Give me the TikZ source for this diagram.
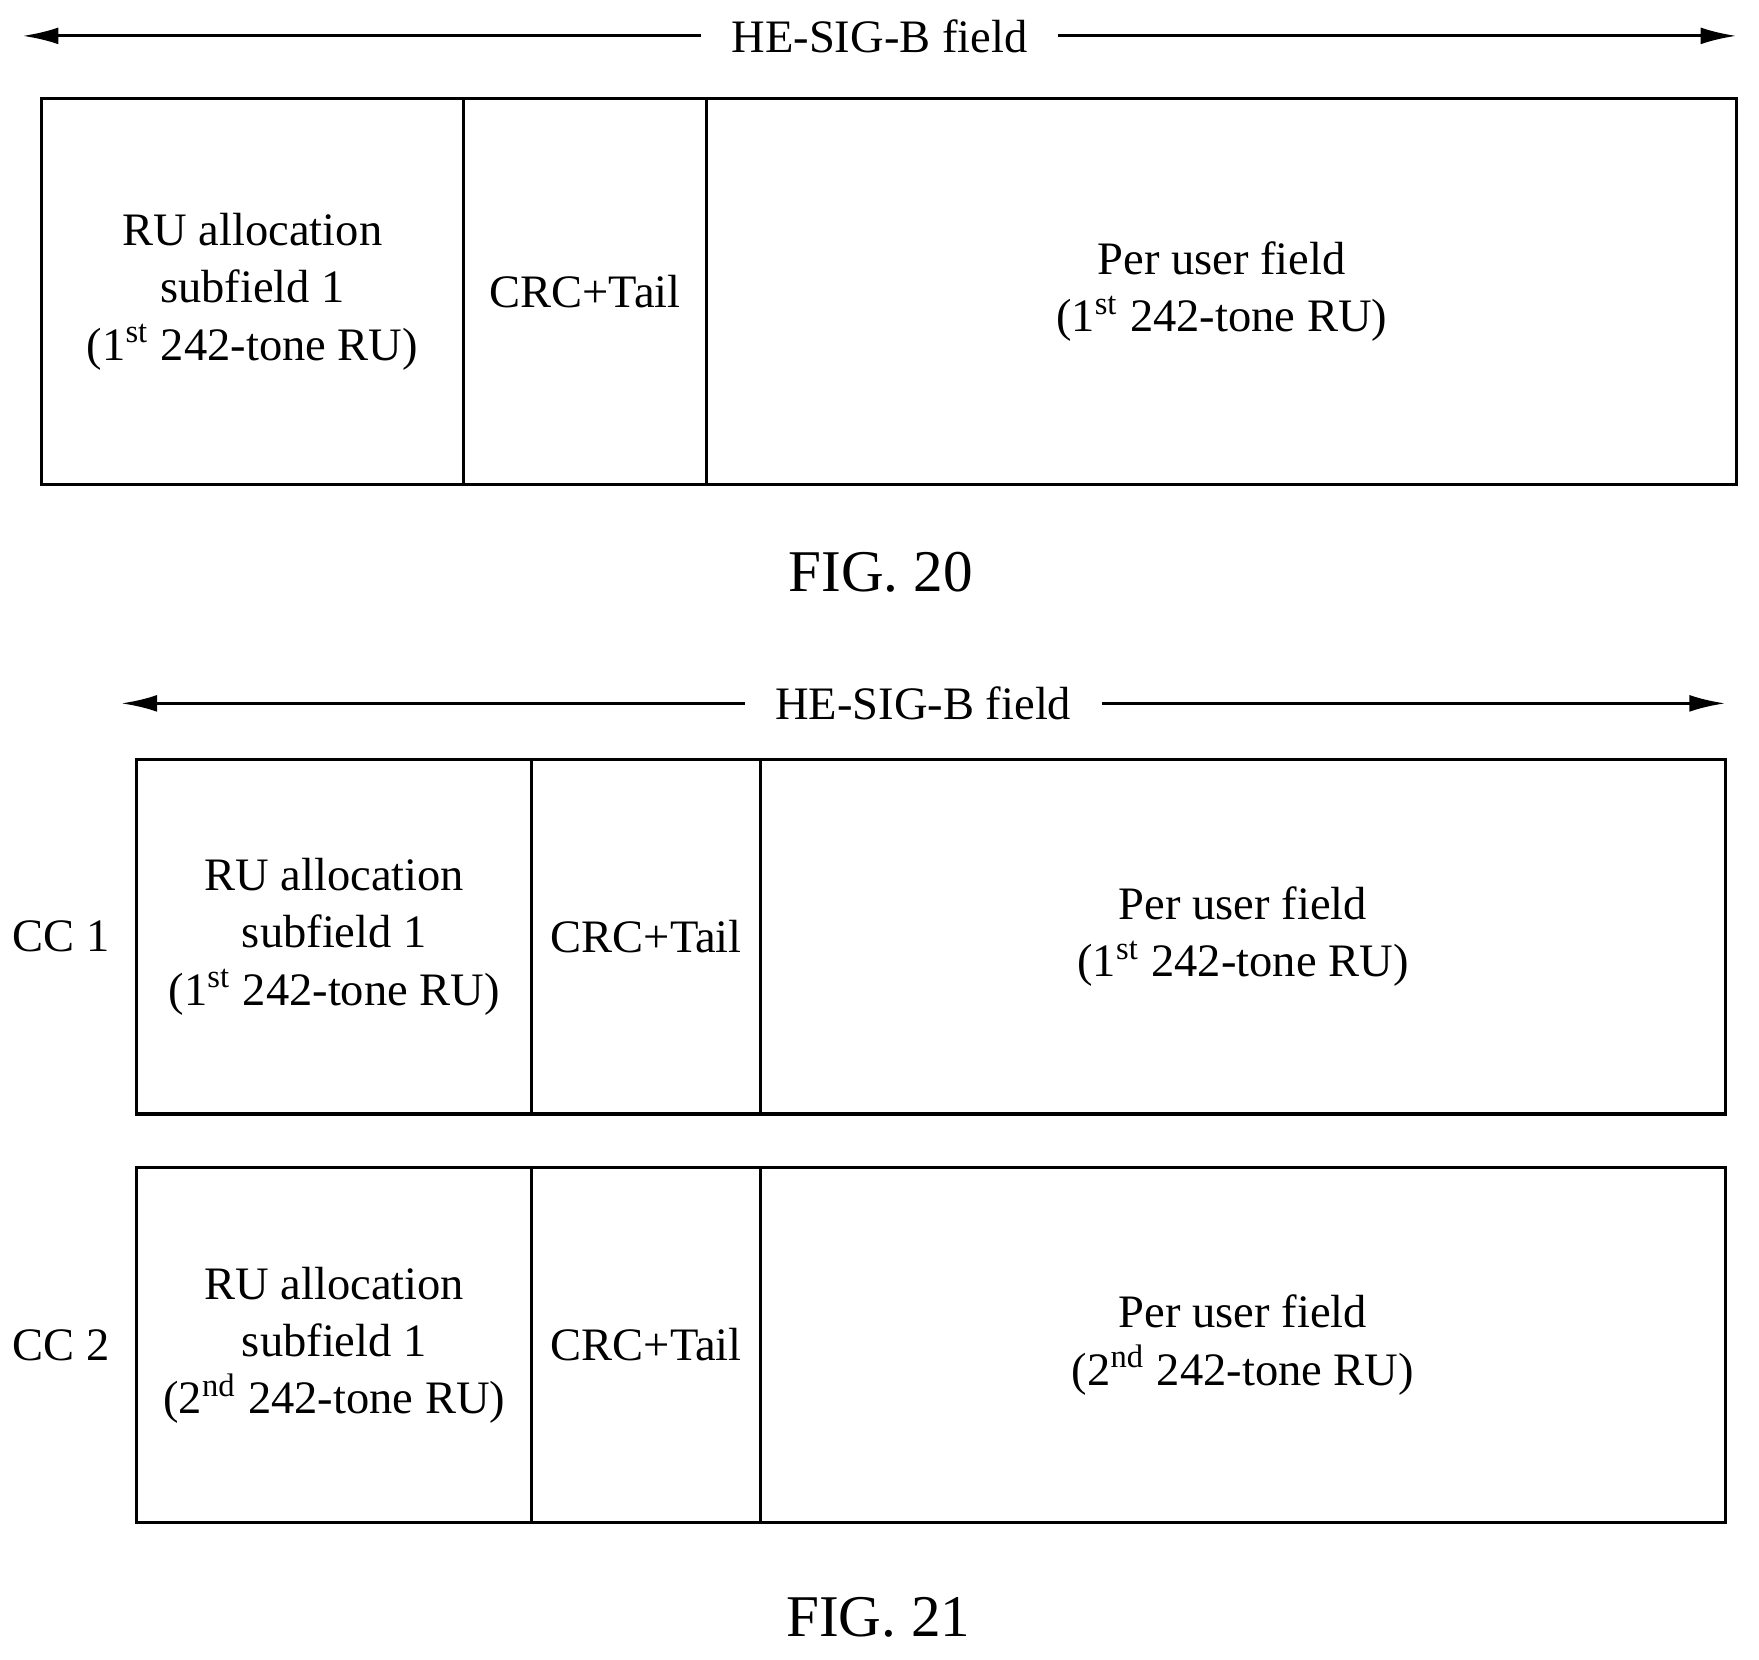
\documentclass[tikz,border=0pt]{standalone}
\usepackage{fontspec}
\setmainfont{Liberation Serif}
\usetikzlibrary{arrows.meta, positioning}

\begin{document}
\begin{tikzpicture}[
    field/.style={rectangle, draw, thick, inner sep=0pt, outer sep=0pt, align=center, font=\fontsize{11.8}{14.5}\selectfont},
    span/.style={{Latex[length=0.32cm,width=0.15cm]}-{Latex[length=0.32cm,width=0.15cm]}, thick},
    spanlabel/.style={fill=white, inner xsep=0.27cm, font=\fontsize{11.8}{13}\selectfont},
    caption/.style={font=\fontsize{15}{18}\selectfont},
    cclabel/.style={font=\fontsize{11.8}{13}\selectfont}
]
\useasboundingbox (0,0) rectangle (15.68,-14.79);

% FIG. 20
\coordinate (a20l) at (0.20,-0.32);
\coordinate (a20r) at (15.48,-0.32);
\draw[span] (a20l) -- (a20r) node[spanlabel, pos=0.5] (len20) {HE-SIG-B field};

\node[field, anchor=north west, minimum width=3.76cm, minimum height=3.44cm] (ru20) at (0.37,-0.88) {RU allocation\\subfield 1\\(1\textsuperscript{st} 242-tone RU)};
\node[field, right=0pt of ru20, minimum width=2.17cm, minimum height=3.44cm] (crc20) {CRC+Tail};
\node[field, right=0pt of crc20, minimum width=9.18cm, minimum height=3.44cm] (user20) {Per user field\\(1\textsuperscript{st} 242-tone RU)};

\node[caption] (fig20) at (7.85,-5.10) {FIG. 20};

% FIG. 21
\coordinate (a21l) at (1.08,-6.27);
\coordinate (a21r) at (15.38,-6.27);
\draw[span] (a21l) -- (a21r) node[spanlabel, pos=0.5] (len21) {HE-SIG-B field};

\node[field, anchor=north west, minimum width=3.52cm, minimum height=3.16cm] (ru1) at (1.22,-6.77) {RU allocation\\subfield 1\\(1\textsuperscript{st} 242-tone RU)};
\node[field, right=0pt of ru1, minimum width=2.04cm, minimum height=3.16cm] (crc1) {CRC+Tail};
\node[field, right=0pt of crc1, minimum width=8.60cm, minimum height=3.16cm] (user1) {Per user field\\(1\textsuperscript{st} 242-tone RU)};
\node[cclabel, left=0.12cm of ru1] (cc1) {CC 1};

\node[field, below=0.48cm of ru1, minimum width=3.52cm, minimum height=3.16cm] (ru2) {RU allocation\\subfield 1\\(2\textsuperscript{nd} 242-tone RU)};
\node[field, right=0pt of ru2, minimum width=2.04cm, minimum height=3.16cm] (crc2) {CRC+Tail};
\node[field, right=0pt of crc2, minimum width=8.60cm, minimum height=3.16cm] (user2) {Per user field\\(2\textsuperscript{nd} 242-tone RU)};
\node[cclabel, left=0.12cm of ru2] (cc2) {CC 2};

\node[caption] (fig21) at (7.83,-14.42) {FIG. 21};

\end{tikzpicture}
\end{document}
